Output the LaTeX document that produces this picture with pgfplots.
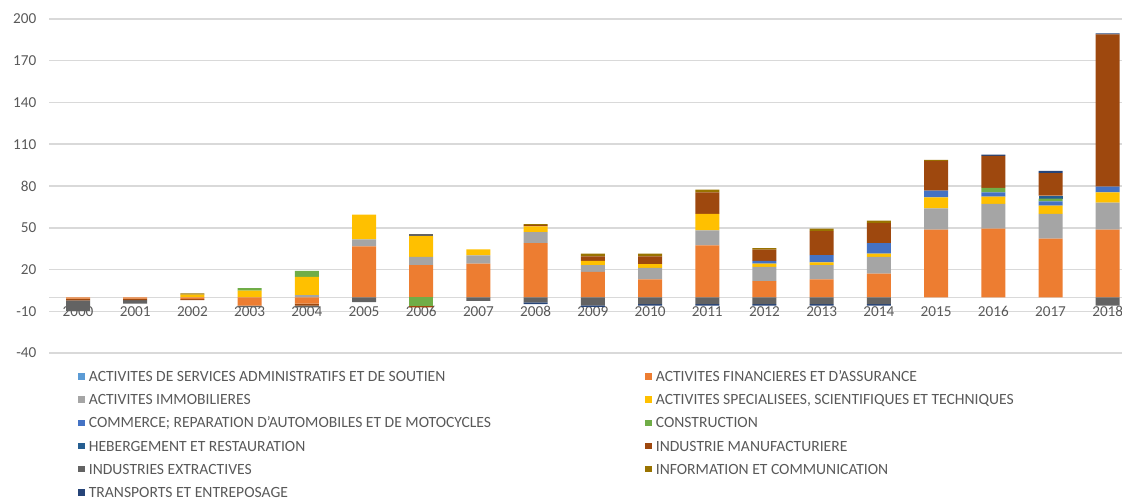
\documentclass[border=0pt]{standalone}
\usepackage{fontspec}
\setmainfont{Carlito}
\usepackage{pgfplots}
\pgfplotsset{compat=1.18}
\usepackage{pgfplotstable}

\definecolor{cadm}{HTML}{5B9BD5}
\definecolor{cfin}{HTML}{ED7D31}
\definecolor{cimm}{HTML}{A5A5A5}
\definecolor{cspe}{HTML}{FFC000}
\definecolor{ccom}{HTML}{4472C4}
\definecolor{ccon}{HTML}{70AD47}
\definecolor{cheb}{HTML}{255E91}
\definecolor{cman}{HTML}{9E480E}
\definecolor{cext}{HTML}{636363}
\definecolor{cinf}{HTML}{997300}
\definecolor{ctra}{HTML}{264478}
\definecolor{txtgray}{HTML}{595959}
\definecolor{gridgray}{HTML}{D9D9D9}

% positive parts, stacked upwards (x = year - 2000)
\pgfplotstableread{
x  adm fin  imm  spe  com con heb man   ext inf tra
0  0   0    0    0    0   0   0   0     0   0   0
1  0   0    0    0    0   0   0   0     0   0   0
2  0   0    0    2.0  0   0   0   0     0   0.8 0
3  0   0    0    4.8  0   1.9 0   0     0   0   0
4  0   0    1.5  13.2 0   4.3 0   0     0   0   0
5  0   36.6 5.0  17.9 0   0   0   0     0   0   0
6  0   23.1 5.9  15.0 0   0   0   0     1.2 0   0
7  0   24.3 5.9  4.3  0   0   0   0     0   0   0
8  0   39.0 7.9  4.0  0   0   0   1.0   0   0.7 0
9  0   18.3 4.8  3.1  0   0   0   3.3   0   1.9 0
10 0   12.9 8.3  2.6  0   0   0   5.7   0   1.9 0
11 0   37.4 10.7 11.9 0   0   0   15.4  0   2.0 0
12 0   11.6 10.3 2.4  1.9 0   0   8.1   0   1.1 0
13 0   12.9 10.2 2.1  5.2 0   0   17.2  0   1.7 0
14 0   17.1 11.9 2.4  7.6 0   0   14.3  0   1.9 0
15 0   48.6 15.4 7.9  4.7 0   0   21.5  0   0.7 0
16 0   49.3 17.8 5.3  3.0 3.2 0   23.0  0   0   1.0
17 0   42.1 17.9 5.9  3.1 1.9 2.2 16.2  0   0   1.6
18 0   48.6 19.5 7.3  4.1 0   0   109.5 0   0   0.6
}\pos

% negative parts, stacked downwards
\pgfplotstableread{
x  fin  con  man  ext  tra
0  -1.0 0    -1.2 -7.5 0
1  -1.0 0    -1.0 -2.5 0
2  -1.2 0    -0.8 0    0
3  -6.0 0    0    -1.0 0
4  -4.5 0    -1.5 -1.2 0
5  0    0    0    -3.5 0
6  0    -6.2 -1.0 0    0
7  0    0    0    -2.5 0
8  0    0    0    -3.6 -1.2
9  0    0    0    -5.8 -1.1
10 0    0    0    -4.8 -1.2
11 0    0    0    -4.8 -1.2
12 0    0    0    -4.8 -1.2
13 0    0    0    -4.8 -1.2
14 0    0    0    -4.8 -1.2
15 0    0    0    0    0
16 0    0    0    0    0
17 0    0    0    0    0
18 0    0    0    -6.0 0
}\neg

\pgfplotsset{
  sqlegend/.style={legend image code/.code={\path[##1,draw=none] (0pt,-1.6pt) rectangle (3.2pt,1.6pt);}},
  base/.style={at={(0,0)}, anchor=south west, scale only axis,
    width=536.3pt, height=167pt,
    xmin=-0.5, xmax=18.25, ymin=-40, ymax=200,
    ybar stacked, bar width=12pt},
}
\newcommand{\lc}[1]{\makebox[278.3pt][l]{#1}}

\begin{document}
\begin{tikzpicture}
\begin{axis}[base, name=ax,
    xtick=\empty,
    ytick={-40,-10,...,200},
    ymajorgrids, grid style={line width=0.75pt, gridgray},
    extra y ticks={0}, extra y tick labels={}, extra y tick style={grid=major},
    axis line style={draw=none}, major tick length=0pt, tick style={draw=none},
    ticklabel style={font=\fontsize{7.6}{9}\selectfont, text=txtgray},
    yticklabel style={xshift=-3pt},
    /pgf/number format/assume math mode=true,
    legend columns=2, legend cell align=left,
    legend style={draw=none, fill=none, inner sep=0pt,
      at={(axis description cs:0.0267,-0.0539)}, anchor=north west,
      font=\fontsize{7.8}{9}\selectfont, text=txtgray, row sep=6.6pt,
      /tikz/every odd column/.append style={column sep=2pt},
      nodes={inner sep=0pt, text height=5pt, text depth=0pt}},
  ]
  \addplot[fill=cadm, draw=none, sqlegend] table[x=x,y=adm]{\pos};
  \addlegendentry{\lc{ACTIVITES DE SERVICES ADMINISTRATIFS ET DE SOUTIEN}}
  \addplot[fill=cfin, draw=none, sqlegend] table[x=x,y=fin]{\pos};
  \addlegendentry{ACTIVITES FINANCIERES ET D'ASSURANCE}
  \addplot[fill=cimm, draw=none, sqlegend] table[x=x,y=imm]{\pos};
  \addlegendentry{\lc{ACTIVITES IMMOBILIERES}}
  \addplot[fill=cspe, draw=none, sqlegend] table[x=x,y=spe]{\pos};
  \addlegendentry{ACTIVITES SPECIALISEES, SCIENTIFIQUES ET TECHNIQUES}
  \addplot[fill=ccom, draw=none, sqlegend] table[x=x,y=com]{\pos};
  \addlegendentry{\lc{COMMERCE; REPARATION D'AUTOMOBILES ET DE MOTOCYCLES}}
  \addplot[fill=ccon, draw=none, sqlegend] table[x=x,y=con]{\pos};
  \addlegendentry{CONSTRUCTION}
  \addplot[fill=cheb, draw=none, sqlegend] table[x=x,y=heb]{\pos};
  \addlegendentry{\lc{HEBERGEMENT ET RESTAURATION}}
  \addplot[fill=cman, draw=none, sqlegend] table[x=x,y=man]{\pos};
  \addlegendentry{INDUSTRIE MANUFACTURIERE}
  \addplot[fill=cext, draw=none, sqlegend] table[x=x,y=ext]{\pos};
  \addlegendentry{\lc{INDUSTRIES EXTRACTIVES}}
  \addplot[fill=cinf, draw=none, sqlegend] table[x=x,y=inf]{\pos};
  \addlegendentry{INFORMATION ET COMMUNICATION}
  \addplot[fill=ctra, draw=none, sqlegend] table[x=x,y=tra]{\pos};
  \addlegendentry{\lc{TRANSPORTS ET ENTREPOSAGE}}
\end{axis}

\begin{axis}[base, hide axis, clip=false]
  \addplot[fill=cfin, draw=none] table[x=x,y=fin]{\neg};
  \addplot[fill=ccon, draw=none] table[x=x,y=con]{\neg};
  \addplot[fill=cman, draw=none] table[x=x,y=man]{\neg};
  \addplot[fill=cext, draw=none] table[x=x,y=ext]{\neg};
  \addplot[fill=ctra, draw=none] table[x=x,y=tra]{\neg};
  \pgfplotsinvokeforeach{0,...,18}{
    \node[font=\fontsize{7.6}{9}\selectfont, text=txtgray, inner sep=0pt]
      at (axis cs:#1,-10) {\the\numexpr2000+#1\relax};
  }
\end{axis}

\pgfresetboundingbox
\coordinate (bl) at ([shift={(-24.7pt,-75pt)}]ax.south west);
\coordinate (tr) at ([shift={(0pt,9.5pt)}]ax.north east);
\path[use as bounding box] (bl) rectangle (tr);
\end{tikzpicture}
\end{document}
